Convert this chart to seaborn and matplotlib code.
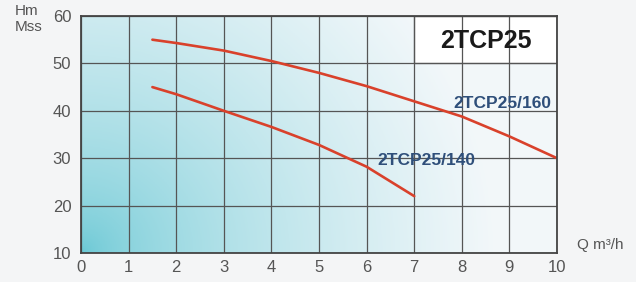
import numpy as np
import pandas as pd
import matplotlib
matplotlib.use("Agg")
import matplotlib.pyplot as plt
import seaborn as sns
from matplotlib.patches import Rectangle

# Data
flow_160 = [1.5, 2, 3, 4, 5, 6, 7, 8, 9, 10]
head_160 = [55, 54.3, 52.7, 50.5, 48, 45.2, 42, 38.8, 34.6, 30]
flow_140 = [1.5, 2, 3, 4, 5, 6, 7]
head_140 = [45, 43.5, 40, 36.6, 32.8, 28.2, 22]
x_ticks = [0, 1, 2, 3, 4, 5, 6, 7, 8, 9, 10]
y_ticks = [10, 20, 30, 40, 50, 60]
series_names = ["2TCP25/160", "2TCP25/140"]
title = "2TCP25"

df = pd.concat([
    pd.DataFrame({"Q": flow_160, "H": head_160, "model": series_names[0]}),
    pd.DataFrame({"Q": flow_140, "H": head_140, "model": series_names[1]}),
])

sns.set_style("white")
plt.rcParams["font.family"] = ["Liberation Sans", "DejaVu Sans"]

fig = plt.figure(figsize=(6.36, 2.82), dpi=100)
fig.patch.set_facecolor("#f4f5f6")
ax = fig.add_axes([81/636, 1-253/282, (557-81)/636, (253-16)/282])

# gradient background
nx, ny = 200, 100
gx, gy = np.meshgrid(np.linspace(0, 1, nx), np.linspace(0, 1, ny))
d = np.clip(np.sqrt((gx*1.15)**2 + (gy*0.6)**2), 0, 1)
teal = np.array([0.40, 0.78, 0.83])
white = np.array([0.95, 0.97, 0.98])
t = d**0.6
img = teal[None, None, :]*(1-t[..., None]) + white[None, None, :]*t[..., None]
ax.imshow(img, extent=[0, 10, 10, 60], origin="lower", aspect="auto", zorder=0)

ax.set_xlim(0, 10)
ax.set_ylim(10, 60)
ax.set_xticks(x_ticks)
ax.set_yticks(y_ticks)
ax.grid(True, color="#555555", linewidth=0.9, zorder=1)
ax.set_axisbelow(False)

# white title box
ax.add_patch(Rectangle((7, 50), 3, 10, facecolor="white", edgecolor="#555555",
                       linewidth=0.9, zorder=2))
ax.text(8.5, 54.8, title, ha="center", va="center", fontsize=18,
        fontweight="bold", color="#1a1a1a", zorder=3)

sns.lineplot(data=df, x="Q", y="H", hue="model",
             palette=["#d9412b", "#d9412b"], linewidth=1.9,
             legend=False, ax=ax, zorder=4, sort=False)

ax.text(8.85, 41.6, series_names[0], ha="center", va="center", fontsize=12.5,
        fontweight="bold", color="#2f4f7a", zorder=5)
ax.text(7.25, 29.6, series_names[1], ha="center", va="center", fontsize=12.5,
        fontweight="bold", color="#2f4f7a", zorder=5)

for s in ax.spines.values():
    s.set_color("#444444")
    s.set_linewidth(1.3)
    s.set_zorder(6)

ax.tick_params(axis="x", length=0, labelsize=12, colors="#555555", pad=5)
ax.tick_params(axis="y", length=0, labelsize=12, colors="#555555", pad=7)
ax.set_xlabel("")
ax.set_ylabel("")

fig.text(15/636, 1-19/282, "Hm\nMss", ha="left", va="center", fontsize=11,
         color="#555555", linespacing=1.1)
fig.text(600/636, 1-245/282, "Q m³/h", ha="center", va="center", fontsize=11,
         color="#555555")

fig.savefig("out.png", dpi=100, facecolor=fig.get_facecolor())
